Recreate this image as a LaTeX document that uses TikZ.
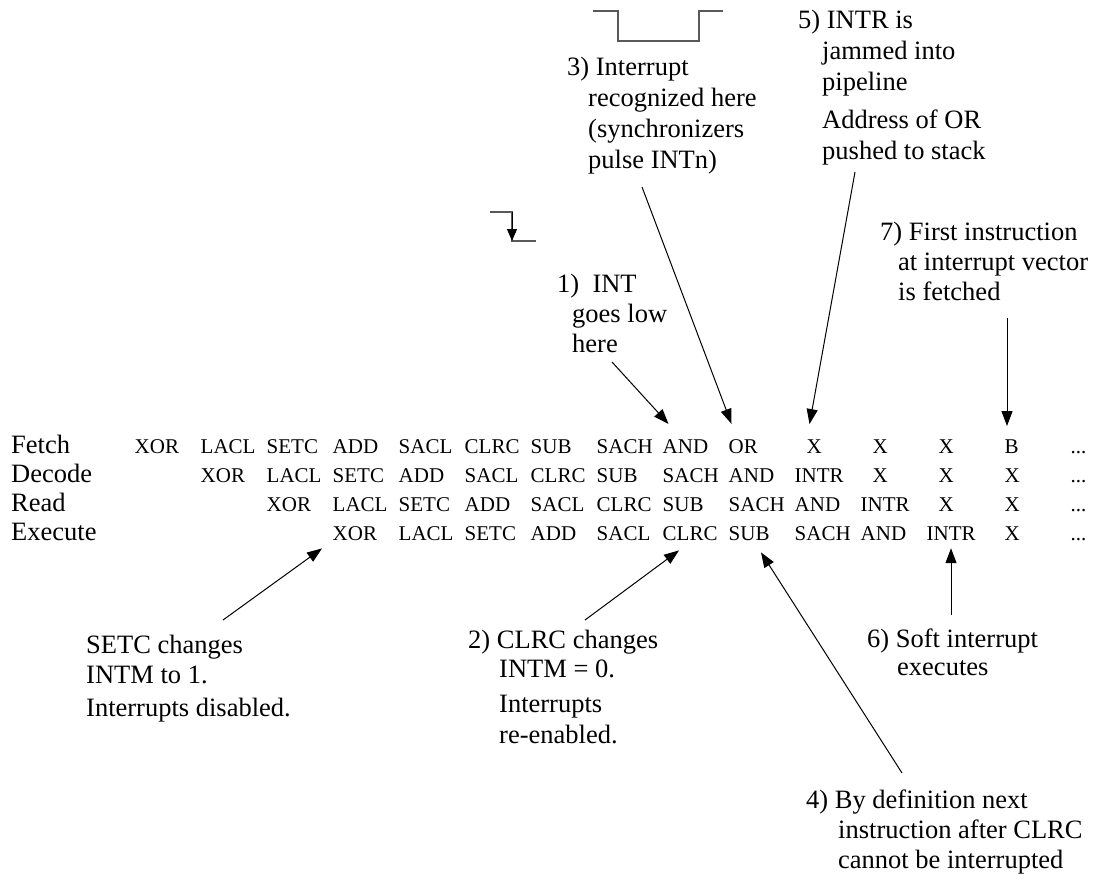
\documentclass[tikz,border=0pt]{standalone}
\usepackage{fontspec}
\setmainfont{Liberation Serif}
\usetikzlibrary{arrows.meta}
\begin{document}
\begin{tikzpicture}[x=1pt,y=-1pt,
  note/.style={font=\fontsize{26.5}{31}\selectfont, anchor=base west, inner sep=0pt},
  rowlab/.style={font=\fontsize{26.5}{31}\selectfont, anchor=base west, inner sep=0pt},
  cell/.style={font=\fontsize{21}{25}\selectfont, anchor=base west, inner sep=0pt},
  ptr/.style={-{Triangle[length=15pt,width=11pt]}, line width=1pt},
  wave/.style={line width=1.4pt, draw=black!65}]
\useasboundingbox (0,0) rectangle (1115,878);

% pipeline rows: labels and stage contents
\node[rowlab] (lF) at (11,453) {Fetch};
\node[rowlab] (lD) at (11,482) {Decode};
\node[rowlab] (lR) at (11,511) {Read};
\node[rowlab] (lE) at (11,540) {Execute};

\foreach \t [count=\k] in {XOR,LACL,SETC,ADD,SACL,CLRC,SUB,SACH,AND,OR}
  \node[cell] (f\k) at ({134.5+66*(\k-1)},453) {\t};
\foreach \t [count=\k from 11] in {X,X,X,B}
  \node[cell] (f\k) at ({146.5+66*(\k-1)},453) {\t};
\foreach \t [count=\k from 2] in {XOR,LACL,SETC,ADD,SACL,CLRC,SUB,SACH,AND,INTR}
  \node[cell] (d\k) at ({134.5+66*(\k-1)},482) {\t};
\foreach \t [count=\k from 12] in {X,X,X}
  \node[cell] (d\k) at ({146.5+66*(\k-1)},482) {\t};
\foreach \t [count=\k from 3] in {XOR,LACL,SETC,ADD,SACL,CLRC,SUB,SACH,AND,INTR}
  \node[cell] (r\k) at ({134.5+66*(\k-1)},511) {\t};
\foreach \t [count=\k from 13] in {X,X}
  \node[cell] (r\k) at ({146.5+66*(\k-1)},511) {\t};
\foreach \t [count=\k from 4] in {XOR,LACL,SETC,ADD,SACL,CLRC,SUB,SACH,AND,INTR}
  \node[cell] (e\k) at ({134.5+66*(\k-1)},540) {\t};
\node[cell] (e14) at (1004.5,540) {X};
\node[cell] (f15) at (1070.5,453) {...};
\node[cell] (d15) at (1070.5,482) {...};
\node[cell] (r15) at (1070.5,511) {...};
\node[cell] (e15) at (1070.5,540) {...};

% INT falling edge
\coordinate (w1a) at (490,212);
\coordinate (w1b) at (512,212);
\coordinate (w1c) at (512,241);
\coordinate (w1d) at (536,241);
\draw[wave] (w1a) -- (w1b) -- (w1c) -- (w1d);
\draw[-{Triangle[length=12pt,width=10pt]}, line width=1pt] (w1b) -- (w1c);

% INTn pulse
\coordinate (w3a) at (593,11);
\coordinate (w3b) at (618,11);
\coordinate (w3c) at (618,41);
\coordinate (w3d) at (699,41);
\coordinate (w3e) at (699,11);
\coordinate (w3f) at (723,11);
\draw[wave] (w3a) -- (w3b) -- (w3c) -- (w3d) -- (w3e) -- (w3f);

% notes above the pipeline
\node[note] (n1a) at (557,292) {1)\ \ INT};
\node[note] (n1b) at (572,322) {goes low};
\node[note] (n1c) at (572,352) {here};
\coordinate (s1) at (612,362);
\draw[ptr] (s1) -- ([shift={(6,-15)}]f9.north west);

\node[note] (n3a) at (567,75) {3) Interrupt};
\node[note] (n3b) at (588,106) {recognized here};
\node[note] (n3c) at (588,137) {(synchronizers};
\node[note] (n3d) at (588,168) {pulse INTn)};
\coordinate (s3) at (642,187);
\draw[ptr] (s3) -- ([shift={(3,-15)}]f10.north west);

\node[note] (n5a) at (798,28) {5) INTR is};
\node[note] (n5b) at (822,59) {jammed into};
\node[note] (n5c) at (822,90) {pipeline};
\node[note] (n5d) at (822,128) {Address of OR};
\node[note] (n5e) at (822,159) {pushed to stack};
\coordinate (s5) at (855,172);
\draw[ptr] (s5) -- ([shift={(3,-15)}]f11.north west);

\node[note] (n7a) at (880,240) {7) First instruction};
\node[note] (n7b) at (898,270) {at interrupt vector};
\node[note] (n7c) at (898,300) {is fetched};
\coordinate (s7) at (1007,318);
\coordinate (t7) at ([yshift=13pt]f14.north);
\draw[ptr] (s7) -- (s7 |- t7);

% notes below the pipeline
\node[note] (nsa) at (86,653) {SETC changes};
\node[note] (nsb) at (86,683) {INTM to 1.};
\node[note] (nsc) at (86,716) {Interrupts disabled.};
\coordinate (ss) at (223,620);
\draw[ptr] (ss) -- ([shift={(-10.5,8)}]e4.south west);

\node[note] (n2a) at (468,648) {2) CLRC changes};
\node[note] (n2b) at (499,677) {INTM = 0.};
\node[note] (n2c) at (499,712) {Interrupts};
\node[note] (n2d) at (499,743) {re-enabled.};
\coordinate (s2) at (585,620);
\draw[ptr] (s2) -- ([shift={(16.5,10)}]e9.south west);

\node[note] (n6a) at (867,647) {6) Soft interrupt};
\node[note] (n6b) at (897,675) {executes};
\coordinate (s6) at (951,615);
\draw[ptr] (s6) -- ([xshift=24.5pt,yshift=-8pt]e13.south west);

\node[note] (n4a) at (806,808) {4) By definition next};
\node[note] (n4b) at (838,838) {instruction after CLRC};
\node[note] (n4c) at (838,868) {cannot be interrupted};
\coordinate (s4) at (902,773);
\draw[ptr] (s4) -- ([shift={(32.5,12)}]e10.south west);
\end{tikzpicture}
\end{document}
